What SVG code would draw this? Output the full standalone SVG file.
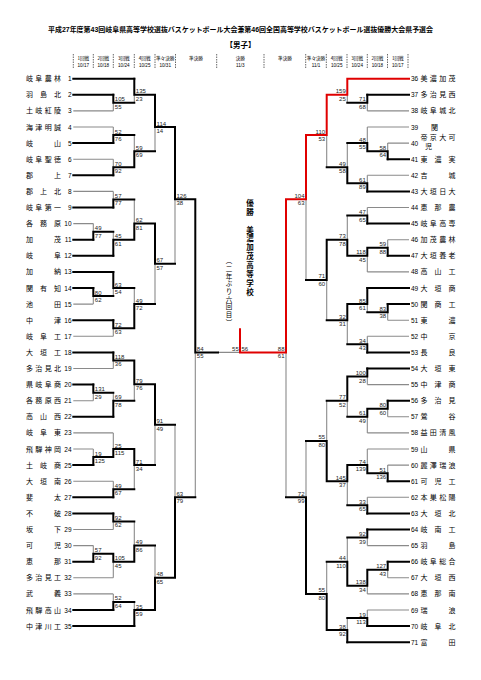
<svg xmlns="http://www.w3.org/2000/svg" width="481" height="680" viewBox="0 0 481 680">
<style>
.k{fill:none;stroke:#000;stroke-width:2;stroke-linecap:square}
.g{fill:none;stroke:#8a8a8a;stroke-width:1.1}
.r{fill:none;stroke:#e00000;stroke-width:2;stroke-linecap:square}
.sep{stroke:#000;stroke-width:0.6;stroke-dasharray:1.5 1}
text{font-family:"Liberation Sans","Noto Sans CJK JP",sans-serif;fill:#000}
.nm{font-family:"Noto Sans CJK JP",sans-serif;font-size:7px}
.no{font-size:6.5px}
.ne{font-size:6.5px;text-anchor:end}
.s{font-size:6px;fill:#222}
.se{font-size:6px;fill:#222;text-anchor:end}
.h{font-family:"Noto Sans CJK JP",sans-serif;font-size:4.6px;text-anchor:middle}
.hd{font-size:4.6px;text-anchor:middle}
.v{font-family:"Noto Sans CJK JP",sans-serif;writing-mode:vertical-rl}
</style>
<rect width="481" height="680" fill="#fff"/>
<g id="header">
<text x="240.5" y="31.5" font-family="Noto Sans CJK JP, sans-serif" font-size="7" font-weight="bold" text-anchor="middle" textLength="385" lengthAdjust="spacingAndGlyphs">平成27年度第43回岐阜県高等学校選抜バスケットボール大会兼第46回全国高等学校バスケットボール選抜優勝大会県予選会</text>
<text x="240.5" y="48" font-family="Noto Sans CJK JP, sans-serif" font-size="7.5" font-weight="bold" text-anchor="middle">【男子】</text>
<g class="sep">
<line x1="73.3" y1="54" x2="73.3" y2="69"/><line x1="93.3" y1="54" x2="93.3" y2="69"/><line x1="113.3" y1="54" x2="113.3" y2="69"/><line x1="134.3" y1="54" x2="134.3" y2="69"/><line x1="155" y1="54" x2="155" y2="69"/><line x1="175.5" y1="54" x2="175.5" y2="69"/><line x1="216.7" y1="54" x2="216.7" y2="69"/><line x1="264" y1="54" x2="264" y2="69"/><line x1="305.7" y1="54" x2="305.7" y2="69"/><line x1="326.3" y1="54" x2="326.3" y2="69"/><line x1="347" y1="54" x2="347" y2="69"/><line x1="367.3" y1="54" x2="367.3" y2="69"/><line x1="387.5" y1="54" x2="387.5" y2="69"/><line x1="408" y1="54" x2="408" y2="69"/>
</g>
<text class="h" x="83.3" y="60">1回戦</text><text class="hd" x="83.3" y="67.3">10/17</text>
<text class="h" x="103.3" y="60">2回戦</text><text class="hd" x="103.3" y="67.3">10/18</text>
<text class="h" x="123.8" y="60">3回戦</text><text class="hd" x="123.8" y="67.3">10/24</text>
<text class="h" x="144.7" y="60">4回戦</text><text class="hd" x="144.7" y="67.3">10/25</text>
<text class="h" x="165.2" y="60">準々決勝</text><text class="hd" x="165.2" y="67.3">10/31</text>
<text class="h" x="196" y="60">準決勝</text>
<text class="h" x="240.3" y="60">決勝</text><text class="hd" x="240.3" y="67.3">11/3</text>
<text class="h" x="285" y="60">準決勝</text>
<text class="h" x="316" y="60">準々決勝</text><text class="hd" x="316" y="67.3">11/1</text>
<text class="h" x="336.7" y="60">4回戦</text><text class="hd" x="336.7" y="67.3">10/25</text>
<text class="h" x="357.2" y="60">3回戦</text><text class="hd" x="357.2" y="67.3">10/24</text>
<text class="h" x="377.4" y="60">2回戦</text><text class="hd" x="377.4" y="67.3">10/18</text>
<text class="h" x="397.8" y="60">1回戦</text><text class="hd" x="397.8" y="67.3">10/17</text>
</g>
<g id="connectors">
<path class="g" d="M73.3 110.9H113.3M73.3 127H113.3M73.3 159.2H113.3M73.3 191.4H113.3M73.3 223.6H93.3M73.3 304.1H93.3M73.3 336.3H113.3M73.3 368.5H113.3M73.3 400.7H93.3M73.3 432.9H113.3M73.3 449H93.3M73.3 481.2H113.3M73.3 529.5H113.3M73.3 545.6H93.3M73.3 577.8H113.3M73.3 593.9H113.3"/>
<path class="g" d="M113.3 110.9V102.85M134.3 102.85V94.8M113.3 127V135.05M113.3 159.2V167.25M134.3 135.05V151.15M155 151.15V127M113.3 191.4V199.45M93.3 223.6V231.65M113.3 231.65V239.7M134.3 199.45V223.6M93.3 304.1V296.05M113.3 296.05V288M113.3 336.3V328.25M134.3 288V304.1M155 304.1V263.85M175 263.85V199.3M113.3 368.5V360.45M93.3 400.7V392.65M113.3 392.65V400.7M134.3 400.7V384.2M93.3 449V457.05M113.3 432.9V449M113.3 481.2V489.25M134.3 489.25V465.1M155 465.1V424.65M113.3 529.5V521.45M93.3 545.6V553.65M113.3 577.8V561.7M134.3 521.45V545.6M113.3 593.9V601.95M134.3 601.95V610M155 545.6V577.8M175 424.65V497.3M195.3 497.3V352.4M218 352.4H240"/>
<path class="g" d="M409 110.9H367.3M409 127H367.3M409 143.1H387.7M409 175.3H367.3M409 207.5H367.3M409 239.7H387.7M409 271.9H367.3M409 320.2H387.7M409 336.3H367.3M409 384.6H367.3M409 416.8H387.7M409 432.9H367.3M409 449H367.3M409 465.1H387.7M409 497.3H367.3M409 545.6H367.3M409 577.8H387.7M409 593.9H367.3M409 610H367.3"/>
<path class="g" d="M367.3 110.9V102.85M347.3 102.85V94.8M387.7 143.1V151.15M367.3 127V143.1M367.3 175.3V183.35M347.3 143.1V167.25M326.7 167.25V135M367.3 207.5V215.55M387.7 239.7V247.75M367.3 271.9V255.8M347.3 215.55V239.7M387.7 320.2V312.15M367.3 312.15V304.1M367.3 336.3V344.35M347.3 344.35V320.2M326.7 320.2V279.95M306 279.95V199.3M367.3 384.6V376.55M387.7 416.8V408.75M367.3 432.9V416.8M347.3 416.8V400.7M387.7 465.1V473.15M367.3 449V465.1M367.3 497.3V505.35M347.3 505.35V481.2M326.7 400.7V440.95M367.3 545.6V537.55M387.7 577.8V569.75M367.3 593.9V585.8M347.3 537.55V561.7M367.3 610V618.05M347.3 618.05V630.1M326.7 561.7V593.9M306 440.95V497.3M286 497.3V352.4"/>
<path class="k" d="M73.3 78.7H134.3M73.3 94.8H113.3M73.3 143.1H113.3M73.3 175.3H113.3M73.3 207.5H113.3M73.3 239.7H93.3M73.3 255.8H113.3M73.3 271.9H113.3M73.3 288H93.3M73.3 320.2H113.3M73.3 352.4H113.3M73.3 384.6H93.3M73.3 416.8H113.3M73.3 465.1H93.3M73.3 497.3H113.3M73.3 513.4H113.3M73.3 561.7H93.3M73.3 610H113.3M73.3 626.1H134.3"/>
<path class="k" d="M113.3 94.8V102.85H134.3M134.3 78.7V94.8H155M113.3 143.1V135.05H134.3M113.3 175.3V167.25H134.3M134.3 167.25V151.15H155M155 94.8V127H175M113.3 207.5V199.45H134.3M93.3 239.7V231.65H113.3M113.3 255.8V239.7H134.3M134.3 239.7V223.6H155M93.3 288V296.05H113.3M113.3 271.9V288H134.3M113.3 320.2V328.25H134.3M134.3 328.25V304.1H155M155 223.6V263.85H175M175 127V199.3H195.3M113.3 352.4V360.45H134.3M93.3 384.6V392.65H113.3M113.3 416.8V400.7H134.3M134.3 360.45V384.2H155M93.3 465.1V457.05H113.3M113.3 457.05V449H134.3M113.3 497.3V489.25H134.3M134.3 449V465.1H155M155 384.2V424.65H175M113.3 513.4V521.45H134.3M93.3 561.7V553.65H113.3M113.3 553.65V561.7H134.3M134.3 561.7V545.6H155M113.3 610V601.95H134.3M134.3 626.1V610H155M155 610V577.8H175M175 577.8V497.3H195.3M195.3 199.3V352.4H218"/>
<path class="k" d="M409 94.8H367.3M409 159.2H387.7M409 191.4H367.3M409 223.6H367.3M409 255.8H387.7M409 288H367.3M409 304.1H387.7M409 352.4H367.3M409 368.5H367.3M409 400.7H387.7M409 481.2H387.7M409 513.4H367.3M409 529.5H367.3M409 561.7H387.7M409 626.1H367.3M409 642.2H347.3"/>
<path class="k" d="M367.3 94.8V102.85H347.3M387.7 159.2V151.15H367.3M367.3 151.15V143.1H347.3M367.3 191.4V183.35H347.3M347.3 183.35V167.25H326.7M367.3 223.6V215.55H347.3M387.7 255.8V247.75H367.3M367.3 247.75V255.8H347.3M347.3 255.8V239.7H326.7M387.7 304.1V312.15H367.3M367.3 288V304.1H347.3M367.3 352.4V344.35H347.3M347.3 304.1V320.2H326.7M326.7 239.7V279.95H306M367.3 368.5V376.55H347.3M387.7 400.7V408.75H367.3M367.3 408.75V416.8H347.3M347.3 376.55V400.7H326.7M387.7 481.2V473.15H367.3M367.3 473.15V465.1H347.3M367.3 513.4V505.35H347.3M347.3 465.1V481.2H326.7M326.7 481.2V440.95H306M367.3 529.5V537.55H347.3M387.7 561.7V569.75H367.3M367.3 569.75V585.8H347.3M347.3 585.8V561.7H326.7M367.3 626.1V618.05H347.3M347.3 642.2V630.1H326.7M326.7 630.1V593.9H306M306 593.9V497.3H286"/>
<path class="r" d="M409 78.7H347.3V94.8H326.7V135H306V199.3H286V352.4H240V329.3"/>
</g>
<g id="scores">
<text class="s" x="114.8" y="101.35">105</text><text class="s" x="114.8" y="108.85">55</text>
<text class="s" x="135.8" y="93.3">135</text><text class="s" x="135.8" y="100.8">23</text>
<text class="s" x="114.8" y="133.55">52</text><text class="s" x="114.8" y="141.05">76</text>
<text class="s" x="114.8" y="165.75">70</text><text class="s" x="114.8" y="173.25">92</text>
<text class="s" x="135.8" y="149.65">59</text><text class="s" x="135.8" y="157.15">69</text>
<text class="s" x="156.5" y="125.5">114</text><text class="s" x="156.5" y="133">14</text>
<text class="s" x="114.8" y="197.95">57</text><text class="s" x="114.8" y="205.45">77</text>
<text class="s" x="94.8" y="230.15">49</text><text class="s" x="94.8" y="237.65">77</text>
<text class="s" x="114.8" y="238.2">45</text><text class="s" x="114.8" y="245.7">61</text>
<text class="s" x="135.8" y="222.1">62</text><text class="s" x="135.8" y="229.6">81</text>
<text class="s" x="94.8" y="294.55">80</text><text class="s" x="94.8" y="302.05">62</text>
<text class="s" x="114.8" y="286.5">63</text><text class="s" x="114.8" y="294">54</text>
<text class="s" x="114.8" y="326.75">72</text><text class="s" x="114.8" y="334.25">63</text>
<text class="s" x="135.8" y="302.6">49</text><text class="s" x="135.8" y="310.1">72</text>
<text class="s" x="156.5" y="262.35">67</text><text class="s" x="156.5" y="269.85">57</text>
<text class="s" x="176.5" y="197.8">126</text><text class="s" x="176.5" y="205.3">38</text>
<text class="s" x="114.8" y="358.95">118</text><text class="s" x="114.8" y="366.45">36</text>
<text class="s" x="94.8" y="391.15">131</text><text class="s" x="94.8" y="398.65">29</text>
<text class="s" x="114.8" y="399.2">69</text><text class="s" x="114.8" y="406.7">78</text>
<text class="s" x="135.8" y="382.7">79</text><text class="s" x="135.8" y="390.2">76</text>
<text class="s" x="94.8" y="455.55">19</text><text class="s" x="94.8" y="463.05">125</text>
<text class="s" x="114.8" y="447.5">25</text><text class="s" x="114.8" y="455">115</text>
<text class="s" x="114.8" y="487.75">49</text><text class="s" x="114.8" y="495.25">67</text>
<text class="s" x="135.8" y="463.6">71</text><text class="s" x="135.8" y="471.1">34</text>
<text class="s" x="156.5" y="423.15">91</text><text class="s" x="156.5" y="430.65">49</text>
<text class="s" x="114.8" y="519.95">92</text><text class="s" x="114.8" y="527.45">62</text>
<text class="s" x="94.8" y="552.15">57</text><text class="s" x="94.8" y="559.65">92</text>
<text class="s" x="114.8" y="560.2">105</text><text class="s" x="114.8" y="567.7">45</text>
<text class="s" x="135.8" y="544.1">49</text><text class="s" x="135.8" y="551.6">86</text>
<text class="s" x="114.8" y="600.45">52</text><text class="s" x="114.8" y="607.95">64</text>
<text class="s" x="135.8" y="608.5">35</text><text class="s" x="135.8" y="616">59</text>
<text class="s" x="156.5" y="576.3">48</text><text class="s" x="156.5" y="583.8">65</text>
<text class="s" x="176.5" y="495.8">63</text><text class="s" x="176.5" y="503.3">79</text>
<text class="s" x="196.8" y="350.9">84</text><text class="s" x="196.8" y="358.4">55</text>
<text class="se" x="238.8" y="350.9">55</text><text class="s" x="241.5" y="350.9">56</text>
<text class="se" x="365.8" y="101.35">71</text><text class="se" x="365.8" y="108.85">68</text>
<text class="se" x="345.8" y="93.3">159</text><text class="se" x="345.8" y="100.8">25</text>
<text class="se" x="386.2" y="149.65">58</text><text class="se" x="386.2" y="157.15">64</text>
<text class="se" x="365.8" y="141.6">48</text><text class="se" x="365.8" y="149.1">55</text>
<text class="se" x="365.8" y="181.85">61</text><text class="se" x="365.8" y="189.35">89</text>
<text class="se" x="345.8" y="165.75">49</text><text class="se" x="345.8" y="173.25">58</text>
<text class="se" x="325.2" y="133.5">110</text><text class="se" x="325.2" y="141">53</text>
<text class="se" x="365.8" y="214.05">47</text><text class="se" x="365.8" y="221.55">65</text>
<text class="se" x="386.2" y="246.25">59</text><text class="se" x="386.2" y="253.75">88</text>
<text class="se" x="365.8" y="254.3">118</text><text class="se" x="365.8" y="261.8">45</text>
<text class="se" x="345.8" y="238.2">73</text><text class="se" x="345.8" y="245.7">78</text>
<text class="se" x="386.2" y="310.65">83</text><text class="se" x="386.2" y="318.15">38</text>
<text class="se" x="365.8" y="302.6">85</text><text class="se" x="365.8" y="310.1">61</text>
<text class="se" x="365.8" y="342.85">34</text><text class="se" x="365.8" y="350.35">43</text>
<text class="se" x="345.8" y="318.7">32</text><text class="se" x="345.8" y="326.2">31</text>
<text class="se" x="325.2" y="278.45">71</text><text class="se" x="325.2" y="285.95">60</text>
<text class="se" x="304.5" y="197.8">104</text><text class="se" x="304.5" y="205.3">63</text>
<text class="se" x="365.8" y="375.05">100</text><text class="se" x="365.8" y="382.55">28</text>
<text class="se" x="386.2" y="407.25">80</text><text class="se" x="386.2" y="414.75">60</text>
<text class="se" x="365.8" y="415.3">61</text><text class="se" x="365.8" y="422.8">49</text>
<text class="se" x="345.8" y="399.2">77</text><text class="se" x="345.8" y="406.7">52</text>
<text class="se" x="386.2" y="471.65">51</text><text class="se" x="386.2" y="479.15">136</text>
<text class="se" x="365.8" y="463.6">74</text><text class="se" x="365.8" y="471.1">139</text>
<text class="se" x="365.8" y="503.85">33</text><text class="se" x="365.8" y="511.35">65</text>
<text class="se" x="345.8" y="479.7">145</text><text class="se" x="345.8" y="487.2">37</text>
<text class="se" x="325.2" y="439.45">55</text><text class="se" x="325.2" y="446.95">80</text>
<text class="se" x="365.8" y="536.05">92</text><text class="se" x="365.8" y="543.55">39</text>
<text class="se" x="386.2" y="568.25">127</text><text class="se" x="386.2" y="575.75">43</text>
<text class="se" x="365.8" y="584.3">138</text><text class="se" x="365.8" y="591.8">34</text>
<text class="se" x="345.8" y="560.2">44</text><text class="se" x="345.8" y="567.7">110</text>
<text class="se" x="365.8" y="616.55">19</text><text class="se" x="365.8" y="624.05">113</text>
<text class="se" x="345.8" y="628.6">38</text><text class="se" x="345.8" y="636.1">92</text>
<text class="se" x="325.2" y="592.4">55</text><text class="se" x="325.2" y="599.9">80</text>
<text class="se" x="304.5" y="495.8">72</text><text class="se" x="304.5" y="503.3">99</text>
<text class="se" x="284.5" y="350.9">88</text><text class="se" x="284.5" y="358.4">61</text>
</g>
<g id="champion">
<text class="v" x="250" y="199.5" font-size="7.5" font-weight="bold" letter-spacing="1.35">優勝　美濃加茂高等学校</text>
<text class="v" x="229" y="257.5" font-size="6.5" letter-spacing="1.2">（二年ぶり六回目）</text>
</g>
<g id="teams-left">
<g id="t1"><text class="nm" x="26 35.3 44.7 54" y="81.2">岐阜農林</text><text class="ne" x="71.5" y="81.2">1</text></g>
<g id="t2"><text class="nm" x="26 40 54" y="97.3">羽島北</text><text class="ne" x="71.5" y="97.3">2</text></g>
<g id="t3"><text class="nm" x="26 35.3 44.7 54" y="113.4">土岐紅陵</text><text class="ne" x="71.5" y="113.4">3</text></g>
<g id="t4"><text class="nm" x="26 35.3 44.7 54" y="129.5">海津明誠</text><text class="ne" x="71.5" y="129.5">4</text></g>
<g id="t5"><text class="nm" x="26 54" y="145.6">岐山</text><text class="ne" x="71.5" y="145.6">5</text></g>
<g id="t6"><text class="nm" x="26 35.3 44.7 54" y="161.7">岐阜聖徳</text><text class="ne" x="71.5" y="161.7">6</text></g>
<g id="t7"><text class="nm" x="26 54" y="177.8">郡上</text><text class="ne" x="71.5" y="177.8">7</text></g>
<g id="t8"><text class="nm" x="26 40 54" y="193.9">郡上北</text><text class="ne" x="71.5" y="193.9">8</text></g>
<g id="t9"><text class="nm" x="26 35.3 44.7 54" y="210">岐阜第一</text><text class="ne" x="71.5" y="210">9</text></g>
<g id="t10"><text class="nm" x="26 40 54" y="226.1">各務原</text><text class="ne" x="71.5" y="226.1">10</text></g>
<g id="t11"><text class="nm" x="26 54" y="242.2">加茂</text><text class="ne" x="71.5" y="242.2">11</text></g>
<g id="t12"><text class="nm" x="26 54" y="258.3">岐阜</text><text class="ne" x="71.5" y="258.3">12</text></g>
<g id="t13"><text class="nm" x="26 54" y="274.4">加納</text><text class="ne" x="71.5" y="274.4">13</text></g>
<g id="t14"><text class="nm" x="26 40 54" y="290.5">関有知</text><text class="ne" x="71.5" y="290.5">14</text></g>
<g id="t15"><text class="nm" x="26 54" y="306.6">池田</text><text class="ne" x="71.5" y="306.6">15</text></g>
<g id="t16"><text class="nm" x="26 54" y="322.7">中津</text><text class="ne" x="71.5" y="322.7">16</text></g>
<g id="t17"><text class="nm" x="26 40 54" y="338.8">岐阜工</text><text class="ne" x="71.5" y="338.8">17</text></g>
<g id="t18"><text class="nm" x="26 40 54" y="354.9">大垣工</text><text class="ne" x="71.5" y="354.9">18</text></g>
<g id="t19"><text class="nm" x="26 35.3 44.7 54" y="371">多治見北</text><text class="ne" x="71.5" y="371">19</text></g>
<g id="t20"><text class="nm" x="26 35.3 44.7 54" y="387.1">県岐阜商</text><text class="ne" x="71.5" y="387.1">20</text></g>
<g id="t21"><text class="nm" x="26 35.3 44.7 54" y="403.2">各務原西</text><text class="ne" x="71.5" y="403.2">21</text></g>
<g id="t22"><text class="nm" x="26 40 54" y="419.3">高山西</text><text class="ne" x="71.5" y="419.3">22</text></g>
<g id="t23"><text class="nm" x="26 40 54" y="435.4">岐阜東</text><text class="ne" x="71.5" y="435.4">23</text></g>
<g id="t24"><text class="nm" x="26 35.3 44.7 54" y="451.5">飛騨神岡</text><text class="ne" x="71.5" y="451.5">24</text></g>
<g id="t25"><text class="nm" x="26 40 54" y="467.6">土岐商</text><text class="ne" x="71.5" y="467.6">25</text></g>
<g id="t26"><text class="nm" x="26 40 54" y="483.7">大垣南</text><text class="ne" x="71.5" y="483.7">26</text></g>
<g id="t27"><text class="nm" x="26 54" y="499.8">斐太</text><text class="ne" x="71.5" y="499.8">27</text></g>
<g id="t28"><text class="nm" x="26 54" y="515.9">不破</text><text class="ne" x="71.5" y="515.9">28</text></g>
<g id="t29"><text class="nm" x="26 54" y="532">坂下</text><text class="ne" x="71.5" y="532">29</text></g>
<g id="t30"><text class="nm" x="26 54" y="548.1">可児</text><text class="ne" x="71.5" y="548.1">30</text></g>
<g id="t31"><text class="nm" x="26 54" y="564.2">恵那</text><text class="ne" x="71.5" y="564.2">31</text></g>
<g id="t32"><text class="nm" x="26 35.3 44.7 54" y="580.3">多治見工</text><text class="ne" x="71.5" y="580.3">32</text></g>
<g id="t33"><text class="nm" x="26 54" y="596.4">武義</text><text class="ne" x="71.5" y="596.4">33</text></g>
<g id="t34"><text class="nm" x="26 35.3 44.7 54" y="612.5">飛騨高山</text><text class="ne" x="71.5" y="612.5">34</text></g>
<g id="t35"><text class="nm" x="26 35.3 44.7 54" y="628.6">中津川工</text><text class="ne" x="71.5" y="628.6">35</text></g>
</g>
<g id="teams-right">
<g id="t36"><text class="no" x="411" y="81.2">36</text><text class="nm" x="420.5 429.8 439.2 448.5" y="81.2">美濃加茂</text></g>
<g id="t37"><text class="no" x="411" y="97.3">37</text><text class="nm" x="420.5 429.8 439.2 448.5" y="97.3">多治見西</text></g>
<g id="t38"><text class="no" x="411" y="113.4">38</text><text class="nm" x="420.5 429.8 439.2 448.5" y="113.4">岐阜城北</text></g>
<g id="t39"><text class="no" x="411" y="129.5">39</text><text class="nm" x="431" y="129.5">関</text></g>
<g id="t40"><text class="no" x="411" y="145.6">40</text><text class="nm" font-size="5.8"><tspan x="420.5 429.8 439.2 448.5" y="140.2">帝京大可</tspan><tspan x="425" y="149.3">児</tspan></text></g>
<g id="t41"><text class="no" x="411" y="161.7">41</text><text class="nm" x="420.5 434.5 448.5" y="161.7">東濃実</text></g>
<g id="t42"><text class="no" x="411" y="177.8">42</text><text class="nm" x="420.5 448.5" y="177.8">吉城</text></g>
<g id="t43"><text class="no" x="411" y="193.9">43</text><text class="nm" x="420.5 429.8 439.2 448.5" y="193.9">大垣日大</text></g>
<g id="t44"><text class="no" x="411" y="210">44</text><text class="nm" x="420.5 434.5 448.5" y="210">恵那農</text></g>
<g id="t45"><text class="no" x="411" y="226.1">45</text><text class="nm" x="420.5 429.8 439.2 448.5" y="226.1">岐阜高専</text></g>
<g id="t46"><text class="no" x="411" y="242.2">46</text><text class="nm" x="420.5 429.8 439.2 448.5" y="242.2">加茂農林</text></g>
<g id="t47"><text class="no" x="411" y="258.3">47</text><text class="nm" x="420.5 429.8 439.2 448.5" y="258.3">大垣養老</text></g>
<g id="t48"><text class="no" x="411" y="274.4">48</text><text class="nm" x="420.5 434.5 448.5" y="274.4">高山工</text></g>
<g id="t49"><text class="no" x="411" y="290.5">49</text><text class="nm" x="420.5 434.5 448.5" y="290.5">大垣商</text></g>
<g id="t50"><text class="no" x="411" y="306.6">50</text><text class="nm" x="420.5 434.5 448.5" y="306.6">関商工</text></g>
<g id="t51"><text class="no" x="411" y="322.7">51</text><text class="nm" x="420.5 448.5" y="322.7">東濃</text></g>
<g id="t52"><text class="no" x="411" y="338.8">52</text><text class="nm" x="420.5 448.5" y="338.8">中京</text></g>
<g id="t53"><text class="no" x="411" y="354.9">53</text><text class="nm" x="420.5 448.5" y="354.9">長良</text></g>
<g id="t54"><text class="no" x="411" y="371">54</text><text class="nm" x="420.5 434.5 448.5" y="371">大垣東</text></g>
<g id="t55"><text class="no" x="411" y="387.1">55</text><text class="nm" x="420.5 434.5 448.5" y="387.1">中津商</text></g>
<g id="t56"><text class="no" x="411" y="403.2">56</text><text class="nm" x="420.5 434.5 448.5" y="403.2">多治見</text></g>
<g id="t57"><text class="no" x="411" y="419.3">57</text><text class="nm" x="420.5 448.5" y="419.3">鶯谷</text></g>
<g id="t58"><text class="no" x="411" y="435.4">58</text><text class="nm" x="420.5 429.8 439.2 448.5" y="435.4">益田清風</text></g>
<g id="t59"><text class="no" x="411" y="451.5">59</text><text class="nm" x="420.5 448.5" y="451.5">山県</text></g>
<g id="t60"><text class="no" x="411" y="467.6">60</text><text class="nm" x="420.5 429.8 439.2 448.5" y="467.6">麗澤瑞浪</text></g>
<g id="t61"><text class="no" x="411" y="483.7">61</text><text class="nm" x="420.5 434.5 448.5" y="483.7">可児工</text></g>
<g id="t62"><text class="no" x="411" y="499.8">62</text><text class="nm" x="420.5 429.8 439.2 448.5" y="499.8">本巣松陽</text></g>
<g id="t63"><text class="no" x="411" y="515.9">63</text><text class="nm" x="420.5 434.5 448.5" y="515.9">大垣北</text></g>
<g id="t64"><text class="no" x="411" y="532">64</text><text class="nm" x="420.5 434.5 448.5" y="532">岐南工</text></g>
<g id="t65"><text class="no" x="411" y="548.1">65</text><text class="nm" x="420.5 448.5" y="548.1">羽島</text></g>
<g id="t66"><text class="no" x="411" y="564.2">66</text><text class="nm" x="420.5 429.8 439.2 448.5" y="564.2">岐阜総合</text></g>
<g id="t67"><text class="no" x="411" y="580.3">67</text><text class="nm" x="420.5 434.5 448.5" y="580.3">大垣西</text></g>
<g id="t68"><text class="no" x="411" y="596.4">68</text><text class="nm" x="420.5 434.5 448.5" y="596.4">恵那南</text></g>
<g id="t69"><text class="no" x="411" y="612.5">69</text><text class="nm" x="420.5 448.5" y="612.5">瑞浪</text></g>
<g id="t70"><text class="no" x="411" y="628.6">70</text><text class="nm" x="420.5 434.5 448.5" y="628.6">岐阜北</text></g>
<g id="t71"><text class="no" x="411" y="644.7">71</text><text class="nm" x="420.5 448.5" y="644.7">富田</text></g>
</g>
</svg>
